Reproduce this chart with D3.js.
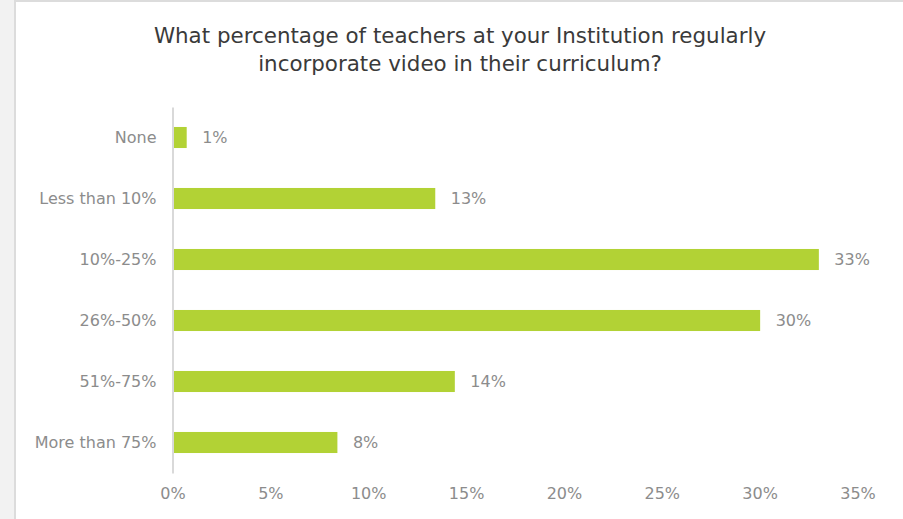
<!DOCTYPE html>
<html>
<head>
<meta charset="utf-8">
<script src="https://cdn.jsdelivr.net/npm/d3@7"></script>
<style>
  body { margin: 0; background: #f2f2f2; overflow: hidden; }
  svg { display: block; }
  text { font-family: "DejaVu Sans", Verdana, sans-serif; }
</style>
</head>
<body>
<script>
let categories = ["None", "Less than 10%", "10%-25%", "26%-50%", "51%-75%", "More than 75%"]
let values = [0.7, 13.4, 33.0, 30.0, 14.4, 8.4]
let valueLabels = ["1%", "13%", "33%", "30%", "14%", "8%"]
let ticks = [0, 5, 10, 15, 20, 25, 30, 35]
let titleLines = ["What percentage of teachers at your Institution regularly", "incorporate video in their curriculum?"]

let w = 903, h = 519
let svg = d3.select("body").append("svg").attr("width", w).attr("height", h)

// card
svg.append("rect").attr("x", 15).attr("y", 1).attr("width", w).attr("height", h)
    .attr("fill", "#fff").attr("stroke", "#dcdcdc").attr("stroke-width", 2)

svg.append("text")
    .attr("x", 460).attr("y", 43)
    .attr("text-anchor", "middle")
    .attr("fill", "#3a3a3a")
    .style("font-size", "21.4px")
    .selectAll("tspan").data(titleLines).enter().append("tspan")
    .attr("x", 460).attr("dy", (d, i) => i ? 28 : 0)
    .text(d => d)

let xScale = d3.scaleLinear().domain([0, 35]).range([172.5, 857.5])
let yScale = d3.scaleBand().domain(categories).range([107, 473]).paddingInner(0.655).paddingOuter(0.3275)

svg.selectAll("rect.bar")
    .data(values)
    .enter()
    .append("rect")
    .attr("class", "bar")
    .attr("x", xScale(0) + 0.5)
    .attr("y", (d, i) => yScale(categories[i]))
    .attr("width", d => xScale(d) - xScale(0))
    .attr("height", yScale.bandwidth())
    .attr("fill", "#b2d235")

svg.selectAll("text.val")
    .data(values)
    .enter()
    .append("text")
    .attr("class", "val")
    .attr("x", d => xScale(d) + 16)
    .attr("y", (d, i) => yScale(categories[i]) + yScale.bandwidth() / 2)
    .attr("dy", "0.36em")
    .attr("fill", "#8c8c8c")
    .style("font-size", "16px")
    .text((d, i) => valueLabels[i])

let yAxis = svg.append("g")
    .attr("transform", `translate(${xScale(0)},0)`)
    .call(d3.axisLeft(yScale).tickSize(0).tickPadding(16))
yAxis.select(".domain").attr("stroke", "#d9d9d9").attr("stroke-width", 2)
yAxis.selectAll("text").attr("fill", "#8c8c8c").style("font-size", "16px")
    .style("font-family", "DejaVu Sans, Verdana, sans-serif")

let xAxis = svg.append("g")
    .attr("transform", `translate(0,473)`)
    .call(d3.axisBottom(xScale).tickValues(ticks).tickFormat(d => d + "%").tickSize(0).tickPadding(15))
xAxis.select(".domain").remove()
xAxis.selectAll("text").attr("fill", "#8c8c8c").style("font-size", "16px")
    .style("font-family", "DejaVu Sans, Verdana, sans-serif")
</script>
</body>
</html>
